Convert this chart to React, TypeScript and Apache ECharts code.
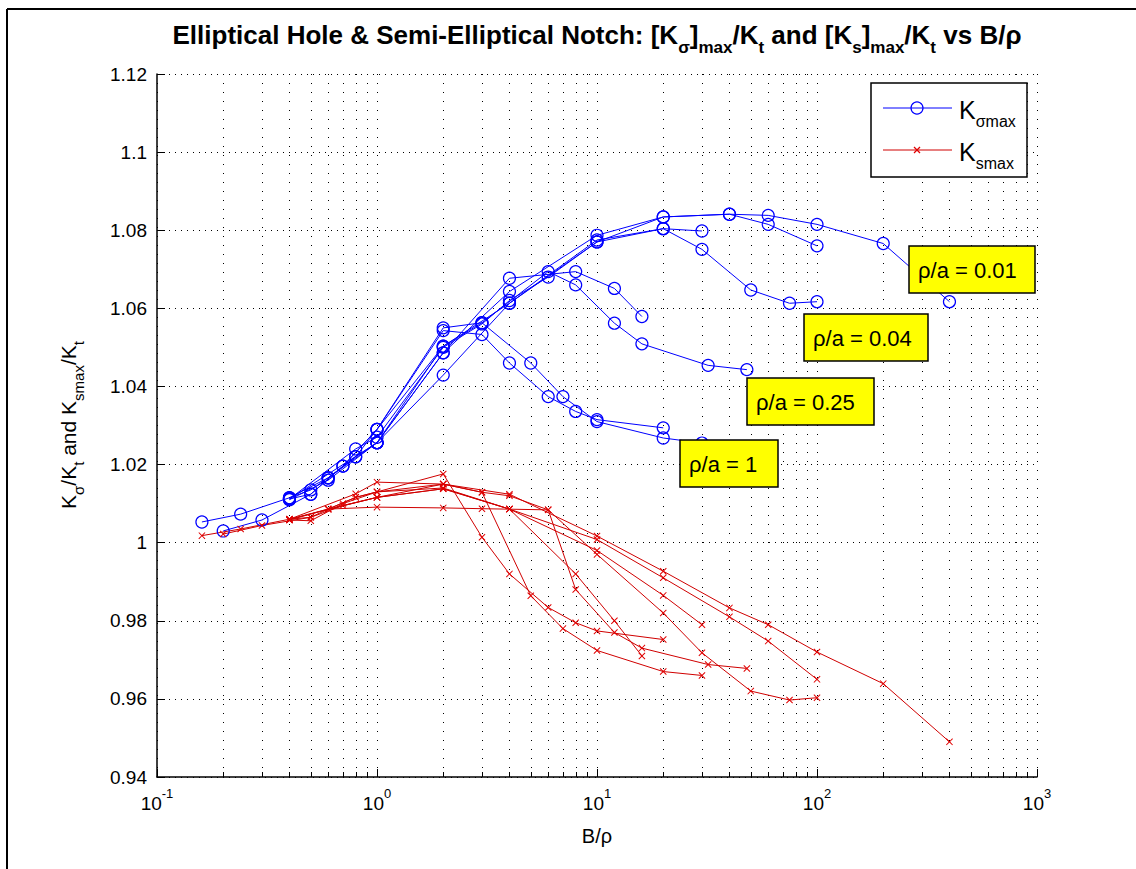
import React, { useEffect, useRef } from "react";
import * as echarts from "echarts";

const FONT = "'Liberation Sans', Arial, Helvetica, sans-serif";
const BLUE = "#0000ff";
const RED = "#e00000";

const X_MIN = 0.1;
const X_MAX = 1000;
const Y_MIN = 0.94;
const Y_MAX = 1.12;
const Y_STEP = 0.02;

const xDecades = [0.1, 1, 10, 100, 1000];
const xDecadeExponents = ["-1", "0", "1", "2", "3"];
const xMinorTicks = [
  0.2, 0.3, 0.4, 0.5, 0.6, 0.7, 0.8, 0.9,
  2, 3, 4, 5, 6, 7, 8, 9,
  20, 30, 40, 50, 60, 70, 80, 90,
  200, 300, 400, 500, 600, 700, 800, 900,
];
const yTickValues = [0.94, 0.96, 0.98, 1, 1.02, 1.04, 1.06, 1.08, 1.1, 1.12];
const yTickLabels = ["0.94", "0.96", "0.98", "1", "1.02", "1.04", "1.06", "1.08", "1.1", "1.12"];

const boxLabels = ["ρ/a = 0.01", "ρ/a = 0.04", "ρ/a = 0.25", "ρ/a = 1"];
const legendNames = ["Kσmax", "Ksmax"];

// curve 1 (rho/a = 0.01, long)
const c1X = [0.4, 0.5, 0.6, 0.8, 1, 2, 4, 10, 20, 40, 60, 100, 200, 400];
const c1Ksig = [1.0115, 1.0135, 1.0166, 1.022, 1.0256, 1.0486, 1.0643, 1.0787, 1.0834, 1.0841, 1.0838, 1.0815, 1.0766, 1.0617];
const c1Ks = [1.006, 1.0065, 1.0086, 1.0116, 1.013, 1.015, 1.0124, 1.0017, 0.9927, 0.9833, 0.979, 0.972, 0.9639, 0.949];
// curve 2
const c2X = [0.4, 0.5, 0.7, 1, 2, 4, 10, 20, 40, 60, 100];
const c2Ksig = [1.0112, 1.0124, 1.0196, 1.029, 1.0503, 1.0613, 1.077, 1.0834, 1.0841, 1.0815, 1.076];
const c2Ks = [1.0058, 1.0056, 1.01, 1.013, 1.014, 1.0086, 1.0008, 0.991, 0.981, 0.9748, 0.965];
// curve 3
const c3X = [0.4, 0.6, 1, 2, 4, 10, 20, 30];
const c3Ksig = [1.011, 1.016, 1.0256, 1.0429, 1.0613, 1.0775, 1.0804, 1.0798];
const c3Ks = [1.0058, 1.0086, 1.0116, 1.0138, 1.0086, 0.998, 0.9865, 0.979];
// curve 4 (rho/a = 0.04)
const c4X = [0.4, 0.8, 1, 2, 3, 4, 6, 10, 20, 30, 50, 75, 100];
const c4Ksig = [1.0112, 1.024, 1.027, 1.05, 1.056, 1.062, 1.068, 1.077, 1.0804, 1.0751, 1.0647, 1.0613, 1.0617];
const c4Ks = [1.006, 1.0125, 1.0155, 1.015, 1.0129, 1.012, 1.0084, 0.997, 0.982, 0.9718, 0.962, 0.9597, 0.9603];
// curve 5
const c5X = [0.4, 1, 2, 4, 8, 12, 16];
const c5Ksig = [1.0112, 1.0256, 1.0486, 1.0677, 1.0694, 1.0651, 1.0579];
const c5Ks = [1.006, 1.0116, 1.0138, 1.0086, 0.992, 0.98, 0.971];
// curve 6 (rho/a = 0.25)
const c6X = [0.6, 1, 2, 3, 6, 8, 12, 16, 32, 48];
const c6Ksig = [1.0166, 1.0256, 1.0503, 1.0563, 1.0694, 1.066, 1.0562, 1.0509, 1.0454, 1.0443];
const c6Ks = [1.0086, 1.0091, 1.0089, 1.0087, 1.0084, 0.988, 0.977, 0.973, 0.9688, 0.9678];
// curve 7 (rho/a = 1)
const c7X = [0.16, 0.24, 0.4, 0.6, 0.8, 1, 2, 3, 4, 6, 8, 10, 20];
const c7Ksig = [1.0053, 1.0073, 1.0115, 1.0166, 1.022, 1.029, 1.0543, 1.0533, 1.046, 1.0374, 1.0336, 1.0315, 1.0294];
const c7Ks = [1.0018, 1.0035, 1.006, 1.0086, 1.0116, 1.013, 1.0176, 1.0014, 0.992, 0.9834, 0.9795, 0.9774, 0.9752];
// curve 8
const c8X = [0.2, 0.3, 0.5, 0.7, 1, 2, 3, 5, 7, 10, 20, 30];
const c8Ksig = [1.003, 1.0058, 1.0124, 1.0196, 1.029, 1.055, 1.0563, 1.046, 1.0374, 1.031, 1.0268, 1.0255];
const c8Ks = [1.0022, 1.0044, 1.0065, 1.0095, 1.0116, 1.015, 1.0129, 0.9864, 0.978, 0.9724, 0.967, 0.966];

const curves = [
  { x: c1X, ksig: c1Ksig, ks: c1Ks },
  { x: c2X, ksig: c2Ksig, ks: c2Ks },
  { x: c3X, ksig: c3Ksig, ks: c3Ks },
  { x: c4X, ksig: c4Ksig, ks: c4Ks },
  { x: c5X, ksig: c5Ksig, ks: c5Ks },
  { x: c6X, ksig: c6Ksig, ks: c6Ks },
  { x: c7X, ksig: c7Ksig, ks: c7Ks },
  { x: c8X, ksig: c8Ksig, ks: c8Ks },
];

const X_MARK = "path://M0,1L1,0L5,4L9,0L10,1L6,5L10,9L9,10L5,6L1,10L0,9L4,5Z";

function buildOption() {
  const series: any[] = [];
  series.push({
    type: "custom",
    silent: true,
    z: 1,
    data: xMinorTicks.map((v) => [v, Y_MIN]),
    renderItem: (_params: any, api: any) => {
      const v = api.value(0);
      const top = api.coord([v, Y_MAX]);
      const bot = api.coord([v, Y_MIN]);
      const x = Math.round(top[0]) + 0.5;
      return {
        type: "group",
        children: [
          {
            type: "line",
            shape: { x1: x, y1: top[1], x2: x, y2: bot[1] },
            style: { stroke: "#000", lineWidth: 1, lineDash: [1, 8] },
          },
          {
            type: "line",
            shape: { x1: x, y1: bot[1], x2: x, y2: bot[1] - 5 },
            style: { stroke: "#000", lineWidth: 1 },
          },
        ],
      };
    },
  });
  curves.forEach((c) => {
    series.push({
      type: "line",
      name: legendNames[0],
      data: c.x.map((v, i) => [v, c.ksig[i]]),
      symbol: "circle",
      symbolSize: 12,
      showAllSymbol: true,
      itemStyle: { color: "rgba(0,0,0,0)", borderColor: BLUE, borderWidth: 1.2 },
      lineStyle: { color: BLUE, width: 1 },
      z: 3,
    });
    series.push({
      type: "line",
      name: legendNames[1],
      data: c.x.map((v, i) => [v, c.ks[i]]),
      symbol: X_MARK,
      symbolSize: 7,
      showAllSymbol: true,
      itemStyle: { color: RED, borderWidth: 0 },
      lineStyle: { color: "#d00000", width: 1 },
      z: 3,
    });
  });

  const subStyleTitle = { fontSize: 17, fontWeight: "bold", fontFamily: FONT, verticalAlign: "bottom" };
  const baseStyleTitle = { fontSize: 26, fontWeight: "bold", fontFamily: FONT, verticalAlign: "bottom", padding: [0, 0, 8, 0] };

  const boxPos = [
    { x: 909, y: 246, w: 126, h: 47 },
    { x: 804, y: 314, w: 124, h: 47 },
    { x: 747, y: 378, w: 127, h: 47 },
    { x: 680, y: 440, w: 98, h: 47 },
  ];

  const legendRich = {
    b: { fontSize: 25, fontFamily: FONT, verticalAlign: "bottom", padding: [0, 0, 7, 0] },
    s: { fontSize: 16, fontFamily: FONT, verticalAlign: "bottom" },
  };

  const graphic: any[] = [
    { type: "line", z: 100, shape: { x1: 7, y1: 9, x2: 1136, y2: 9 }, style: { stroke: "#000", lineWidth: 2 } },
    { type: "line", z: 100, shape: { x1: 7, y1: 9, x2: 7, y2: 869 }, style: { stroke: "#000", lineWidth: 2 } },
    {
      type: "text",
      x: 597,
      y: 39,
      z: 100,
      style: {
        text:
          "{b|Elliptical Hole & Semi-Elliptical Notch: [K}{s|σ}{b|]}{s|max}{b|/K}{s|t}{b| and [K}{s|s}{b|]}{s|max}{b|/K}{s|t}{b| vs B/ρ}",
        align: "center",
        verticalAlign: "middle",
        fill: "#000",
        rich: { b: baseStyleTitle, s: subStyleTitle },
      },
    },
    {
      type: "text",
      x: 72,
      y: 425,
      z: 100,
      rotation: Math.PI / 2,
      style: {
        text: "{b|K}{s|σ}{b|/K}{s|t}{b| and K}{s|smax}{b|/K}{s|t}",
        align: "center",
        verticalAlign: "middle",
        fill: "#000",
        rich: {
          b: { fontSize: 21, fontFamily: FONT, verticalAlign: "bottom", padding: [0, 0, 7, 0] },
          s: { fontSize: 15, fontFamily: FONT, verticalAlign: "bottom" },
        },
      },
    },
    {
      type: "text",
      x: 597,
      y: 836,
      z: 100,
      style: { text: "B/ρ", align: "center", verticalAlign: "middle", fill: "#000", fontSize: 20, fontFamily: FONT },
    },
    { type: "rect", z: 100, shape: { x: 871, y: 83, width: 156, height: 94 }, style: { fill: "#fff", stroke: "#000", lineWidth: 1.5 } },
    { type: "line", z: 101, shape: { x1: 883, y1: 108, x2: 952, y2: 108 }, style: { stroke: BLUE, lineWidth: 1 } },
    { type: "circle", z: 101, shape: { cx: 917, cy: 108, r: 6 }, style: { fill: "none", stroke: BLUE, lineWidth: 1.2 } },
    { type: "line", z: 101, shape: { x1: 883, y1: 150, x2: 952, y2: 150 }, style: { stroke: "#d00000", lineWidth: 1 } },
    { type: "line", z: 101, shape: { x1: 914, y1: 147, x2: 920, y2: 153 }, style: { stroke: RED, lineWidth: 1.2 } },
    { type: "line", z: 101, shape: { x1: 914, y1: 153, x2: 920, y2: 147 }, style: { stroke: RED, lineWidth: 1.2 } },
    {
      type: "text",
      x: 959,
      y: 113,
      z: 101,
      style: { text: "{b|K}{s|σmax}", align: "left", verticalAlign: "middle", fill: "#000", rich: legendRich },
    },
    {
      type: "text",
      x: 959,
      y: 155,
      z: 101,
      style: { text: "{b|K}{s|smax}", align: "left", verticalAlign: "middle", fill: "#000", rich: legendRich },
    },
  ];
  boxLabels.forEach((t, i) => {
    const p = boxPos[i];
    graphic.push({
      type: "rect",
      z: 100,
      shape: { x: p.x, y: p.y, width: p.w, height: p.h },
      style: { fill: "#ffff00", stroke: "#000", lineWidth: 1.5 },
    });
    graphic.push({
      type: "text",
      z: 101,
      x: p.x + 9,
      y: p.y + p.h / 2 + 1,
      style: { text: t, align: "left", verticalAlign: "middle", fill: "#000", fontSize: 22, fontFamily: FONT },
    });
  });

  return {
    animation: false,
    backgroundColor: "#fff",
    grid: { left: 157, right: 99, top: 74, bottom: 92, containLabel: false },
    xAxis: {
      type: "log",
      logBase: 10,
      min: X_MIN,
      max: X_MAX,
      axisLine: { show: true, lineStyle: { color: "#000", width: 1.5 } },
      axisTick: { show: true, inside: true, length: 8, lineStyle: { color: "#000" } },
      splitLine: { show: true, lineStyle: { color: "#000", width: 1, type: [1, 8] } },
      axisLabel: {
        margin: 10,
        formatter: (v: number) => {
          const i = xDecades.findIndex((d) => Math.abs(Math.log10(d) - Math.log10(v)) < 1e-6);
          return i >= 0 ? `{b|10}{p|${xDecadeExponents[i]}}` : "";
        },
        rich: {
          b: { fontSize: 19, fontFamily: FONT, color: "#000", verticalAlign: "top", padding: [7, 0, 0, 0] },
          p: { fontSize: 13, fontFamily: FONT, color: "#000", verticalAlign: "top" },
        },
      },
    },
    yAxis: {
      type: "value",
      min: Y_MIN,
      max: Y_MAX,
      interval: Y_STEP,
      axisLine: { show: true, lineStyle: { color: "#000", width: 1.5 } },
      axisTick: { show: true, inside: true, length: 8, lineStyle: { color: "#000" } },
      splitLine: { show: true, lineStyle: { color: "#000", width: 1, type: [1, 5] } },
      axisLabel: {
        margin: 10,
        color: "#000",
        fontSize: 19,
        fontFamily: FONT,
        formatter: (v: number) => {
          const i = yTickValues.findIndex((t) => Math.abs(t - v) < 1e-6);
          return i >= 0 ? yTickLabels[i] : "";
        },
      },
    },
    series,
    graphic,
  };
}

export default function App() {
  const ref = useRef<HTMLDivElement>(null);
  useEffect(() => {
    if (!ref.current) return;
    const chart = echarts.init(ref.current, undefined, { renderer: "svg" });
    chart.setOption(buildOption() as any);
    return () => chart.dispose();
  }, []);
  return (
    <div
      ref={ref}
      style={{ position: "absolute", left: 0, top: 0, width: 1136, height: 869, background: "#fff" }}
    />
  );
}
